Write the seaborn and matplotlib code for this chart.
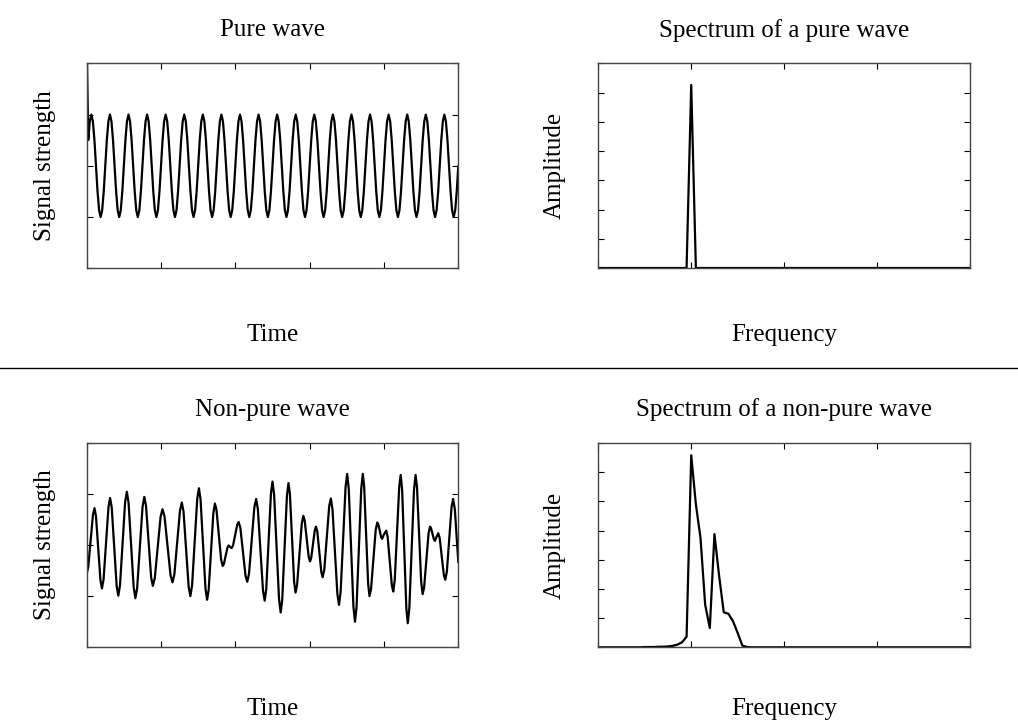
import matplotlib
matplotlib.use("Agg")
import matplotlib.pyplot as plt
from matplotlib.lines import Line2D
import seaborn as sns
import pandas as pd

# ---------------- data ----------------
# Pure wave: one period (12 samples), 20 periods over 1 s
pure_cycle = [0.0, 0.5, 0.866, 1.0, 0.866, 0.5, 0.0, -0.5, -0.866, -1.0, -0.866, -0.5]
pure_first = 2.4          # first sample shoots off the top of the axes
pure_time = [k / 240 for k in range(241)]
pure_values = [pure_first] + pure_cycle[1:] + pure_cycle * 19 + [0.0]

# Non-pure wave: times and values
nonpure_time = [
    0.0, 0.0042, 0.0105, 0.0168,
    0.021, 0.025, 0.031, 0.037,
    0.041, 0.0454, 0.052, 0.0586,
    0.063, 0.0674, 0.074, 0.0806,
    0.085, 0.0896, 0.0965, 0.1034,
    0.108, 0.1126, 0.1195, 0.1264,
    0.131, 0.1358, 0.143, 0.1502,
    0.155, 0.1596, 0.1665, 0.1734,
    0.178, 0.1832, 0.191, 0.1988,
    0.204, 0.2094, 0.2175, 0.2256,
    0.231, 0.236, 0.2435, 0.251,
    0.256, 0.2606, 0.2675, 0.2744,
    0.279, 0.2836, 0.2905, 0.2974,
    0.302, 0.3064, 0.313, 0.3196,
    0.324, 0.3282, 0.3345, 0.3408,
    0.345, 0.3492, 0.3555, 0.3618,
    0.366, 0.3692, 0.374, 0.3788,
    0.382, 0.386,
    0.390, 0.3938, 0.3995, 0.4052,
    0.409, 0.4136, 0.4205, 0.4274,
    0.432, 0.4368, 0.444, 0.4512,
    0.456, 0.4606, 0.4675, 0.4744,
    0.479, 0.4832, 0.4895, 0.4958,
    0.500, 0.5044, 0.511, 0.5176,
    0.522, 0.5262, 0.5325, 0.5388,
    0.543, 0.5468, 0.5525, 0.5582,
    0.562, 0.5662, 0.5725, 0.5788,
    0.583, 0.5866, 0.592, 0.5974,
    0.601, 0.6042, 0.609, 0.6138,
    0.617, 0.6206, 0.626, 0.6314,
    0.635, 0.6394, 0.646, 0.6526,
    0.657, 0.6614, 0.668, 0.6746,
    0.679, 0.6834, 0.690, 0.6966,
    0.701, 0.7052, 0.7115, 0.7178,
    0.722, 0.7262, 0.7325, 0.7388,
    0.743, 0.7466, 0.752, 0.7574,
    0.761, 0.7652, 0.7715, 0.7778,
    0.782, 0.7846, 0.7885, 0.7924,
    0.795, 0.7995,
    0.806, 0.8098, 0.8155, 0.8212,
    0.825, 0.829, 0.835, 0.841,
    0.845, 0.8488, 0.8545, 0.8602,
    0.864, 0.8682, 0.8745, 0.8808,
    0.885, 0.8888, 0.8945, 0.9002,
    0.904, 0.908, 0.914, 0.920,
    0.924, 0.9266, 0.9305, 0.9344,
    0.937, 0.9415,
    0.946, 0.9498, 0.9555, 0.9612,
    0.965, 0.9692, 0.9755, 0.9818,
    0.986, 0.9907, 0.9953, 1.0,
]
nonpure_values = [
    -0.56, -0.43, 0.08, 0.59,
    0.72, 0.56, -0.07, -0.69,
    -0.85, -0.67, 0.04, 0.74,
    0.92, 0.73, -0.04, -0.80,
    -0.99, -0.79, 0.03, 0.84,
    1.04, 0.83, 0.00, -0.83,
    -1.04, -0.84, -0.05, 0.74,
    0.94, 0.77, 0.07, -0.63,
    -0.80, -0.65, -0.05, 0.55,
    0.70, 0.56, -0.02, -0.59,
    -0.73, -0.57, 0.05, 0.67,
    0.83, 0.65, -0.09, -0.82,
    -1.00, -0.79, 0.06, 0.90,
    1.11, 0.89, 0.02, -0.85,
    -1.07, -0.88, -0.13, 0.62,
    0.81, 0.69, 0.20, -0.29,
    -0.41, -0.37, -0.21, -0.05,
    -0.01, -0.04,
    -0.06, -0.01, 0.20, 0.40,
    0.45, 0.33, -0.14, -0.60,
    -0.72, -0.56, 0.09, 0.74,
    0.90, 0.70, -0.10, -0.89,
    -1.09, -0.86, 0.08, 1.01,
    1.24, 0.98, -0.04, -1.06,
    -1.32, -1.07, -0.06, 0.96,
    1.21, 1.00, 0.14, -0.72,
    -0.93, -0.78, -0.18, 0.42,
    0.57, 0.48, 0.13, -0.23,
    -0.32, -0.25, 0.02, 0.29,
    0.36, 0.26, -0.14, -0.53,
    -0.63, -0.48, 0.14, 0.76,
    0.91, 0.70, -0.13, -0.96,
    -1.17, -0.91, 0.11, 1.13,
    1.39, 1.10, -0.06, -1.21,
    -1.50, -1.21, -0.06, 1.10,
    1.39, 1.15, 0.20, -0.76,
    -1.00, -0.86, -0.28, 0.30,
    0.44, 0.41, 0.28, 0.15,
    0.12, 0.20,
    0.28, 0.16, -0.32, -0.79,
    -0.91, -0.68, 0.23, 1.14,
    1.37, 1.08, -0.08, -1.24,
    -1.53, -1.24, -0.08, 1.08,
    1.37, 1.14, 0.21, -0.73,
    -0.96, -0.83, -0.30, 0.23,
    0.36, 0.33, 0.22, 0.11,
    0.08, 0.16,
    0.23, 0.14, -0.23, -0.59,
    -0.68, -0.52, 0.11, 0.74,
    0.90, 0.70, 0.18, -0.34,
]

# Spectra: frequency bins 0..80
freq_bins = list(range(81))
pure_spectrum = [0.0] * 20 + [6.26] + [0.0] * 60
nonpure_spectrum = ([0.0] * 10 +
                    [0.01, 0.01, 0.01, 0.02, 0.02, 0.03, 0.05, 0.09, 0.17, 0.36,
                     6.58, 4.9, 3.74, 1.46, 0.66, 3.88, 2.45, 1.20, 1.15, 0.89,
                     0.49, 0.06, 0.01] +
                    [0.0] * 48)

titles = ["Pure wave", "Spectrum of a pure wave",
          "Non-pure wave", "Spectrum of a non-pure wave"]
xlabels = ["Time", "Frequency", "Time", "Frequency"]
ylabels = ["Signal strength", "Amplitude", "Signal strength", "Amplitude"]
time_ticks = [0, 0.2, 0.4, 0.6, 0.8, 1.0]
wave_yticks = [-2, -1, 0, 1, 2]
freq_ticks = [0, 20, 40, 60, 80]
amp_ticks = [0, 1, 2, 3, 4, 5, 6, 7]

# ---------------- style ----------------
sns.set_style("white")
plt.rcParams["font.family"] = ["Liberation Serif", "DejaVu Serif"]
plt.rcParams["font.size"] = 18
plt.rcParams["text.color"] = "black"
plt.rcParams["axes.labelcolor"] = "black"

fig = plt.figure(figsize=(10.18, 7.23), dpi=100)
W, H = 1018.0, 723.0

def make_ax(left, top, right, bottom):
    return fig.add_axes([left / W, 1 - bottom / H, (right - left) / W, (bottom - top) / H])

ax_pw = make_ax(86.7, 63.3, 458.3, 268.3)
ax_ps = make_ax(598.3, 63.3, 970.0, 268.0)
ax_nw = make_ax(86.7, 442.7, 458.3, 647.3)
ax_ns = make_ax(598.3, 443.0, 970.0, 647.3)

df_pw = pd.DataFrame({"t": pure_time, "v": pure_values})
df_nw = pd.DataFrame({"t": nonpure_time, "v": nonpure_values})
df_ps = pd.DataFrame({"f": freq_bins, "a": pure_spectrum})
df_ns = pd.DataFrame({"f": freq_bins, "a": nonpure_spectrum})

lw = 1.6
sns.lineplot(data=df_pw, x="t", y="v", ax=ax_pw, color="black", lw=lw, sort=False, estimator=None)
sns.lineplot(data=df_nw, x="t", y="v", ax=ax_nw, color="black", lw=lw, sort=False, estimator=None)
sns.lineplot(data=df_ps, x="f", y="a", ax=ax_ps, color="black", lw=lw, sort=False, estimator=None)
sns.lineplot(data=df_ns, x="f", y="a", ax=ax_ns, color="black", lw=lw, sort=False, estimator=None)

axes = [ax_pw, ax_ps, ax_nw, ax_ns]
for i, ax in enumerate(axes):
    if i % 2 == 0:
        ax.set_xlim(0, 1)
        ax.set_ylim(-2, 2)
        ax.set_xticks(time_ticks)
        ax.set_yticks(wave_yticks)
    else:
        ax.set_xlim(0, 80)
        ax.set_ylim(0, 7)
        ax.set_xticks(freq_ticks)
        ax.set_yticks(amp_ticks)
    ax.set_xticklabels([])
    ax.set_yticklabels([])
    ax.tick_params(direction="in", length=4, width=0.8, color="black",
                   top=True, right=True, bottom=True, left=True)
    for s in ax.spines.values():
        s.set_color("#444444")
        s.set_linewidth(1.0)
        s.set_visible(True)
    ax.set_title(titles[i], y=1.162, va="center", pad=0, fontsize=18, color="black")
    ax.set_xlabel(xlabels[i], fontsize=18, va="center", color="black")
    ax.set_ylabel(ylabels[i], fontsize=18, va="center", color="black")
    ax.xaxis.set_label_coords(0.5, -0.325 if i < 2 else -0.300)
    ax.yaxis.set_label_coords(-0.113 if i % 2 == 0 else -0.1165, 0.5)
    ax.set_facecolor("white")
    ax.grid(False)

# separator line between the two rows
fig.add_artist(Line2D([0, 1], [1 - 368 / H, 1 - 368 / H], transform=fig.transFigure,
                      color="black", lw=1.0))

fig.savefig("out.png", dpi=100, facecolor="white")
